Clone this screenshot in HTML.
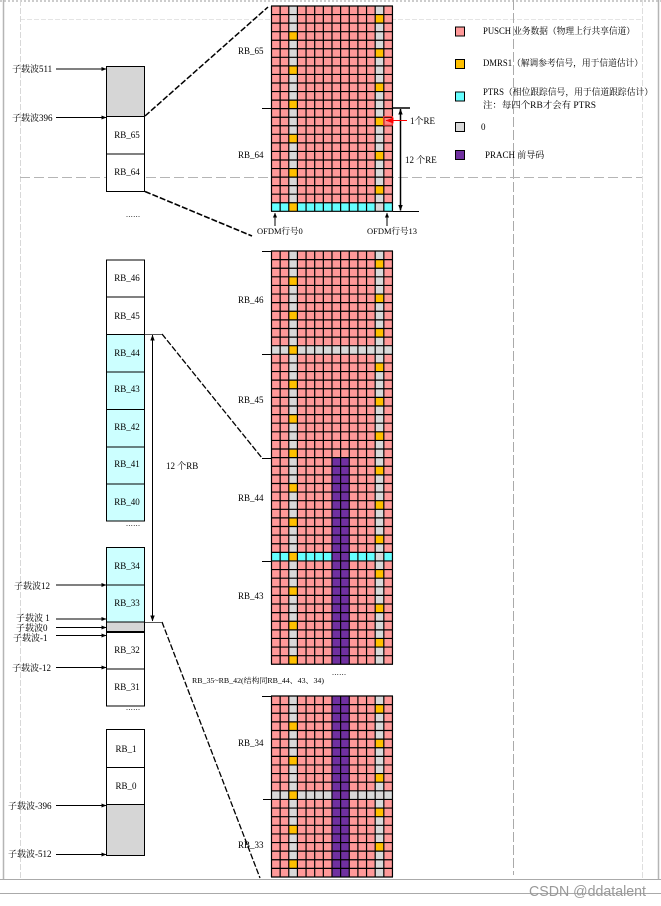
<!DOCTYPE html>
<html>
<head>
<meta charset="utf-8">
<style>
html,body{margin:0;padding:0;background:#fff;width:661px;height:906px;overflow:hidden}
svg{display:block}
text{font-family:"Liberation Serif","Noto Serif CJK SC",serif;font-size:9px;fill:#000}
.c{text-anchor:middle}
.d{font-size:8px;letter-spacing:.4px;fill:#222}
</style>
</head>
<body>
<svg width="661" height="906" viewBox="0 0 661 906" xmlns="http://www.w3.org/2000/svg">
<defs>
<marker id="a" viewBox="0 0 6 6" refX="5.5" refY="3" markerWidth="5" markerHeight="5" orient="auto" markerUnits="userSpaceOnUse"><path d="M0 .5L6 3L0 5.5z" fill="#000"/></marker>
<marker id="b" viewBox="0 0 8 8" refX="7.5" refY="4" markerWidth="8" markerHeight="8" orient="auto-start-reverse" markerUnits="userSpaceOnUse"><path d="M0 1L8 4L0 7z" fill="#000"/></marker>
<marker id="s" viewBox="0 0 8 8" refX="7.5" refY="4" markerWidth="6" markerHeight="6" orient="auto-start-reverse" markerUnits="userSpaceOnUse"><path d="M0 1L8 4L0 7z" fill="#000"/></marker>
<marker id="r" viewBox="0 0 8 8" refX="7.5" refY="4" markerWidth="8" markerHeight="8" orient="auto" markerUnits="userSpaceOnUse"><path d="M0 1L8 4L0 7z" fill="#f00"/></marker>
</defs>

<!-- page frame -->
<line x1="0" y1="1" x2="661" y2="1" stroke="#ccc" stroke-width="2" stroke-dasharray="2 2"/>
<line x1="3.5" y1="0" x2="3.5" y2="879" stroke="#b5b5b5" stroke-width="1.5"/>
<line x1="658.5" y1="0" x2="658.5" y2="879" stroke="#b5b5b5" stroke-width="1.5"/>
<line x1="20" y1="19.5" x2="642" y2="19.5" stroke="#e4e4e4" stroke-dasharray="5 2"/>
<line x1="20.5" y1="0" x2="20.5" y2="879" stroke="#d8d8d8" stroke-dasharray="6 2"/>
<line x1="642.5" y1="0" x2="642.5" y2="879" stroke="#dedede" stroke-dasharray="6 2"/>
<line x1="513.5" y1="0" x2="513.5" y2="875" stroke="#aaa" stroke-dasharray="10 3"/>
<line x1="20" y1="177.5" x2="642" y2="177.5" stroke="#b5b5b5" stroke-dasharray="10 4"/>
<line x1="0" y1="879.5" x2="661" y2="879.5" stroke="#aaa"/>
<line x1="0" y1="893.5" x2="661" y2="893.5" stroke="#aaa"/>

<!-- grid block 1 -->
<rect x="271.5" y="6" width="121" height="205.3" fill="#FF9999"/>
<rect x="271.5" y="202.75" width="121" height="8.55" fill="#66FFFF"/>
<rect x="288.78" y="6" width="8.64" height="205.3" fill="#D9D9D9"/>
<rect x="375.18" y="6" width="8.64" height="205.3" fill="#D9D9D9"/>
<line x1="293.1" y1="31.665" x2="293.1" y2="211.3" stroke="#FFC000" stroke-width="8.64" stroke-dasharray="8.555 25.665"/>
<line x1="379.5" y1="14.555" x2="379.5" y2="211.3" stroke="#FFC000" stroke-width="8.64" stroke-dasharray="8.555 25.665"/>
<line x1="270.9" y1="108.65" x2="393.2" y2="108.65" stroke="#000" stroke-width="205.3" stroke-dasharray="1.2 7.44"/>
<line x1="332" y1="5.4" x2="332" y2="212" stroke="#000" stroke-width="122" stroke-dasharray="1.2 7.355"/>

<!-- grid block 2 -->
<rect x="271.5" y="251" width="121" height="413.3" fill="#FF9999"/>
<rect x="271.5" y="345.71" width="121" height="8.61" fill="#D9D9D9"/>
<rect x="271.5" y="552.35" width="121" height="8.61" fill="#66FFFF"/>
<rect x="288.78" y="251" width="8.64" height="413.3" fill="#D9D9D9"/>
<rect x="375.18" y="251" width="8.64" height="413.3" fill="#D9D9D9"/>
<rect x="331.98" y="457.64" width="17.28" height="206.66" fill="#7030A0"/>
<line x1="293.1" y1="276.83" x2="293.1" y2="664.3" stroke="#FFC000" stroke-width="8.64" stroke-dasharray="8.61 25.83"/>
<line x1="379.5" y1="259.61" x2="379.5" y2="664.3" stroke="#FFC000" stroke-width="8.64" stroke-dasharray="8.61 25.83"/>
<line x1="270.9" y1="457.65" x2="393.2" y2="457.65" stroke="#000" stroke-width="413.3" stroke-dasharray="1.2 7.44"/>
<line x1="332" y1="250.4" x2="332" y2="665" stroke="#000" stroke-width="122" stroke-dasharray="1.2 7.41"/>

<!-- grid block 3 -->
<rect x="271.5" y="696" width="121" height="181" fill="#FF9999"/>
<rect x="271.5" y="790.82" width="121" height="8.62" fill="#D9D9D9"/>
<rect x="288.78" y="696" width="8.64" height="181" fill="#D9D9D9"/>
<rect x="375.18" y="696" width="8.64" height="181" fill="#D9D9D9"/>
<rect x="331.98" y="696" width="17.28" height="181" fill="#7030A0"/>
<line x1="293.1" y1="721.86" x2="293.1" y2="877" stroke="#FFC000" stroke-width="8.64" stroke-dasharray="8.62 25.86"/>
<line x1="379.5" y1="704.62" x2="379.5" y2="877" stroke="#FFC000" stroke-width="8.64" stroke-dasharray="8.62 25.86"/>
<line x1="270.9" y1="786.5" x2="393.2" y2="786.5" stroke="#000" stroke-width="181" stroke-dasharray="1.2 7.44"/>
<line x1="332" y1="695.4" x2="332" y2="878" stroke="#000" stroke-width="122" stroke-dasharray="1.2 7.42"/>

<!-- ticks -->
<path d="M262 108.5H271M262 251.5H271M262 354.5H271M262 458.5H271M262 561.5H271M262 696.5H271M263 799.5H271M393 211.5H419" stroke="#000" fill="none"/>
<path d="M393 108H410" stroke="#000" stroke-width="1.5"/>
<line x1="400.5" y1="109" x2="400.5" y2="210.5" stroke="#000" stroke-width="1.5" marker-start="url(#s)" marker-end="url(#s)"/>

<!-- red RE highlight -->
<rect x="383.7" y="116.6" width="8.8" height="8.6" fill="#ff0000" fill-opacity=".12" stroke="#f33"/>
<line x1="407" y1="120.5" x2="386" y2="120.5" stroke="#f00" marker-end="url(#r)"/>

<!-- left boxes -->
<g stroke="#000" stroke-width="1">
<rect x="106.5" y="66.5" width="38" height="50" fill="#D6D6D6"/>
<rect x="106.5" y="116.5" width="38" height="37.5" fill="#fff"/>
<rect x="106.5" y="154" width="38" height="37.5" fill="#fff"/>
<rect x="106.5" y="260" width="38" height="37" fill="#fff"/>
<rect x="106.5" y="297" width="38" height="37.5" fill="#fff"/>
<rect x="106.5" y="334.5" width="38" height="37.5" fill="#CCFFFF"/>
<rect x="106.5" y="372" width="38" height="37.5" fill="#CCFFFF"/>
<rect x="106.5" y="409.5" width="38" height="37.5" fill="#CCFFFF"/>
<rect x="106.5" y="447" width="38" height="37" fill="#CCFFFF"/>
<rect x="106.5" y="484" width="38" height="37" fill="#CCFFFF"/>
<rect x="106.5" y="547.5" width="38" height="37.5" fill="#CCFFFF"/>
<rect x="106.5" y="585" width="38" height="37" fill="#CCFFFF"/>
<rect x="106.5" y="622" width="38" height="10" fill="#D6D6D6"/>
<rect x="106.5" y="632" width="38" height="37" fill="#fff"/>
<rect x="106.5" y="669" width="38" height="37" fill="#fff"/>
<rect x="106.5" y="729.5" width="38" height="38" fill="#fff"/>
<rect x="106.5" y="767.5" width="38" height="37" fill="#fff"/>
<rect x="106.5" y="804.5" width="38" height="51" fill="#D6D6D6"/>
</g>
<line x1="106" y1="632" x2="145" y2="632" stroke="#000" stroke-width="2"/>

<!-- connectors -->
<g fill="none" stroke="#000">
<path d="M145 116L268 7" stroke-width="1.5" stroke-dasharray="6 2"/>
<path d="M145 191.5L252 236" stroke-width="1.6" stroke-dasharray="6 2"/>
<path d="M162 334L262 458" stroke-width="1.3" stroke-dasharray="6 2"/>
<path d="M162 622L260 878" stroke-width="1.3" stroke-dasharray="6 2"/>
</g>
<path d="M145 334.5H162M145 622.5H162" stroke="#555" fill="none"/>
<line x1="152.5" y1="335" x2="152.5" y2="621" stroke="#000" marker-start="url(#s)" marker-end="url(#s)"/>

<!-- subcarrier arrows -->
<g stroke="#000">
<line x1="56" y1="69" x2="106" y2="69" marker-end="url(#a)"/>
<line x1="56" y1="117.5" x2="106" y2="117.5" marker-end="url(#a)"/>
<line x1="56" y1="585" x2="106" y2="585" marker-end="url(#a)"/>
<line x1="56" y1="619" x2="106" y2="619" marker-end="url(#a)"/>
<line x1="56" y1="627.5" x2="106" y2="627.5" marker-end="url(#a)"/>
<line x1="56" y1="635.5" x2="106" y2="635.5" marker-end="url(#a)"/>
<line x1="56" y1="667.5" x2="106" y2="667.5" marker-end="url(#a)"/>
<line x1="56" y1="805.5" x2="106" y2="805.5" marker-end="url(#a)"/>
<line x1="56" y1="854.5" x2="106" y2="854.5" marker-end="url(#a)"/>
<line x1="275" y1="226" x2="275" y2="213" marker-end="url(#a)"/>
<line x1="387" y1="226" x2="387" y2="213" marker-end="url(#a)"/>
</g>

<!-- subcarrier labels -->
<text x="12" y="72">子载波511</text>
<text x="12" y="121">子载波396</text>
<text x="14" y="589">子载波12</text>
<text x="16" y="621">子载波 1</text>
<text x="16" y="631">子载波0</text>
<text x="13" y="641">子载波-1</text>
<text x="12" y="671">子载波-12</text>
<text x="8" y="809">子载波-396</text>
<text x="8" y="857">子载波-512</text>

<!-- left box labels -->
<text class="c" x="127" y="138">RB_65</text>
<text class="c" x="127" y="175">RB_64</text>
<text class="c" x="127" y="281">RB_46</text>
<text class="c" x="127" y="319">RB_45</text>
<text class="c" x="127" y="356">RB_44</text>
<text class="c" x="127" y="392">RB_43</text>
<text class="c" x="127" y="430">RB_42</text>
<text class="c" x="127" y="467">RB_41</text>
<text class="c" x="127" y="505">RB_40</text>
<text class="c" x="127" y="569">RB_34</text>
<text class="c" x="127" y="606">RB_33</text>
<text class="c" x="127" y="653">RB_32</text>
<text class="c" x="127" y="690">RB_31</text>
<text class="c" x="126" y="752">RB_1</text>
<text class="c" x="126" y="789">RB_0</text>

<text class="d" x="126" y="217">......</text>
<text class="d" x="126" y="526">......</text>
<text class="d" x="126" y="710">......</text>
<text class="d" x="332" y="675">......</text>

<!-- grid labels -->
<text x="238" y="54">RB_65</text>
<text x="238" y="158">RB_64</text>
<text x="238" y="303">RB_46</text>
<text x="238" y="403">RB_45</text>
<text x="238" y="501">RB_44</text>
<text x="238" y="599">RB_43</text>
<text x="238" y="746">RB_34</text>
<text x="238" y="848">RB_33</text>

<text x="166" y="469">12 个RB</text>
<text x="410" y="124">1个RE</text>
<text x="405" y="163">12 个RE</text>
<text x="257" y="234" style="font-size:8.5px">OFDM行号0</text>
<text x="367" y="234" style="font-size:8.5px">OFDM行号13</text>
<text x="192" y="683" style="font-size:7.5px" textLength="132" lengthAdjust="spacingAndGlyphs">RB_35~RB_42(结构同RB_44、43、34)</text>

<!-- legend -->
<g stroke="#000" stroke-width="1">
<rect x="455.5" y="27" width="9" height="9" fill="#FF9999"/>
<rect x="455.5" y="59.5" width="9" height="9" fill="#FFC000"/>
<rect x="455.5" y="92" width="9" height="9" fill="#66FFFF"/>
<rect x="455.5" y="122.5" width="9" height="9" fill="#D9D9D9"/>
<rect x="455.5" y="150.5" width="9" height="9" fill="#7030A0"/>
</g>
<text x="483" y="34" textLength="152" lengthAdjust="spacingAndGlyphs">PUSCH 业务数据（物理上行共享信道）</text>
<text x="483" y="66" textLength="160" lengthAdjust="spacingAndGlyphs">DMRS1（解调参考信号，用于信道估计）</text>
<text x="483" y="95" textLength="170" lengthAdjust="spacingAndGlyphs">PTRS（相位跟踪信号，用于信道跟踪估计）</text>
<text x="483" y="108" textLength="113" lengthAdjust="spacingAndGlyphs">注：每四个RB才会有 PTRS</text>
<text x="481" y="130">0</text>
<text x="485" y="158">PRACH 前导码</text>

<!-- watermark -->
<text x="529" y="896" textLength="117" lengthAdjust="spacingAndGlyphs" style="font-family:'Liberation Sans',sans-serif;font-size:14.5px;fill:#999">CSDN @ddatalent</text>
</svg>
</body>
</html>
